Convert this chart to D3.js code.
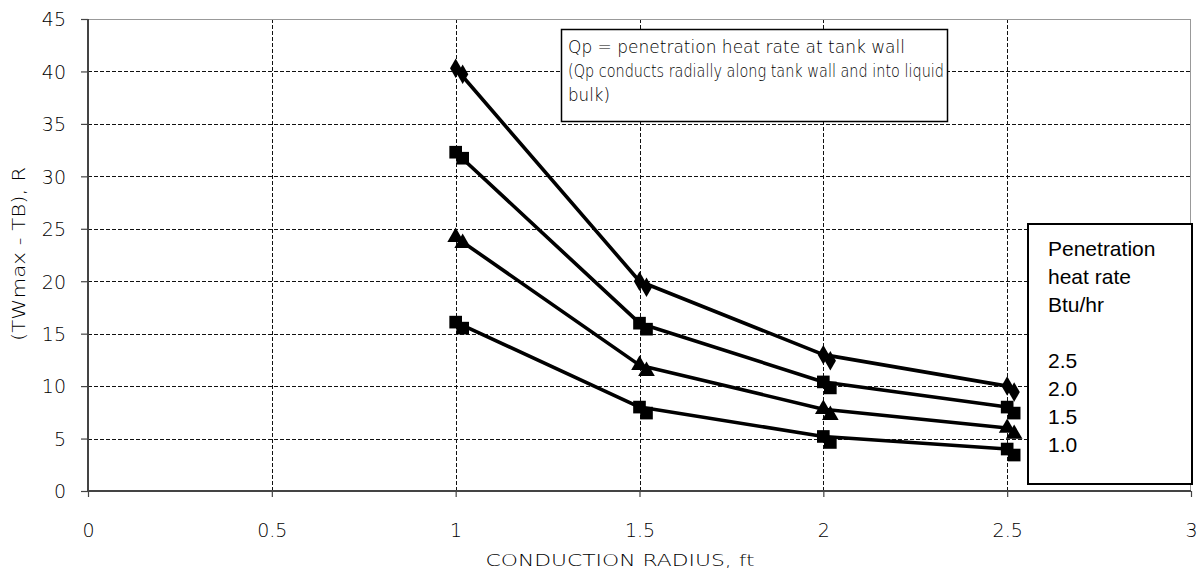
<!DOCTYPE html>
<html>
<head>
<meta charset="utf-8">
<script src="https://cdn.jsdelivr.net/npm/d3@7"></script>
<style>
  html, body { margin: 0; padding: 0; background: #fff; }
  svg { display: block; }
  .tick-label { font-family: "DejaVu Sans", Verdana, sans-serif; font-weight: 200; fill: #000; }
  .note { font-family: "DejaVu Sans", Verdana, sans-serif; font-weight: 200; fill: #000; }
  .legend-text { font-family: "Liberation Sans", Arial, sans-serif; fill: #000; }
</style>
</head>
<body>
<script>
// Conduction radius (ft)
const radius = [1.0, 1.5, 2.0, 2.5];

// Penetration heat rates (Btu/hr), one curve each
const heatRates = ["2.5", "2.0", "1.5", "1.0"];

// (TWmax - TB), R for each heat rate
const dT_2_5 = [40.3, 20.0, 13.0, 10.0];
const dT_2_0 = [32.3, 16.0, 10.4, 8.0];
const dT_1_5 = [24.2, 12.0, 7.8, 6.0];
const dT_1_0 = [16.1, 8.0, 5.2, 4.0];

const markerKinds = ["diamond", "square", "triangle", "square"];

const xTicks = [0, 0.5, 1, 1.5, 2, 2.5, 3];
const yTicks = [0, 5, 10, 15, 20, 25, 30, 35, 40, 45];

const xTitle = "CONDUCTION RADIUS, ft";
const yTitle = "(TWmax - TB), R";
const noteLines = [
  "Qp = penetration heat rate at tank wall",
  "(Qp conducts radially along tank wall and into liquid",
  "bulk)"
];
const legendTitle = ["Penetration", "heat rate", "Btu/hr"];

const series = [dT_2_5, dT_2_0, dT_1_5, dT_1_0].map((vals, i) => ({
  rate: heatRates[i],
  marker: markerKinds[i],
  points: radius.map((r, j) => ({ x: r, y: vals[j] }))
}));

const W = 1198, H = 571;
const plot = { left: 88, right: 1191, top: 19, bottom: 491 };

const svg = d3.select("body").append("svg").attr("width", W).attr("height", H);

const x = d3.scaleLinear().domain([0, 3]).range([plot.left, plot.right]);
const y = d3.scaleLinear().domain([0, 45]).range([plot.bottom, plot.top]);

// Dashed gridlines
const grid = svg.append("g").attr("shape-rendering", "crispEdges");
grid.selectAll("line.hg").data(yTicks.filter(t => t > 0 && t < 45)).join("line")
  .attr("x1", plot.left).attr("x2", plot.right)
  .attr("y1", d => Math.round(y(d)) + 0.5).attr("y2", d => Math.round(y(d)) + 0.5)
  .attr("stroke", "#111").attr("stroke-width", 1).attr("stroke-dasharray", "4,2");
grid.selectAll("line.vg").data(xTicks.filter(t => t > 0 && t < 3)).join("line")
  .attr("y1", plot.top).attr("y2", plot.bottom)
  .attr("x1", d => Math.round(x(d)) + 0.5).attr("x2", d => Math.round(x(d)) + 0.5)
  .attr("stroke", "#111").attr("stroke-width", 1).attr("stroke-dasharray", "4,2");

// Plot frame top and right
grid.append("line").attr("x1", plot.left).attr("x2", plot.right)
  .attr("y1", plot.top + 0.5).attr("y2", plot.top + 0.5).attr("stroke", "#999");
grid.append("line").attr("x1", plot.right - 0.5).attr("x2", plot.right - 0.5)
  .attr("y1", plot.top).attr("y2", plot.bottom).attr("stroke", "#999");

// Axes
const xAxis = d3.axisBottom(x).tickValues(xTicks).tickSize(6).tickFormat(d3.format("~g"));
const yAxis = d3.axisLeft(y).tickValues(yTicks).tickSize(7).tickFormat(d3.format("~g"));

const gx = svg.append("g").attr("transform", `translate(0,${plot.bottom})`).call(xAxis);
const gy = svg.append("g").attr("transform", `translate(${plot.left},0)`).call(yAxis);

gx.select(".domain").attr("stroke", "#444").attr("stroke-width", 2)
  .attr("d", `M${plot.left},0H${plot.right}`);
gy.select(".domain").attr("stroke", "#444").attr("stroke-width", 2)
  .attr("d", `M0,${plot.top}V${plot.bottom}`);
gx.selectAll(".tick line").attr("stroke", "#444").attr("stroke-width", 1.2);
gy.selectAll(".tick line").attr("stroke", "#444").attr("stroke-width", 1.2);
gx.selectAll(".tick text").attr("class", "tick-label").attr("font-size", 19)
  .attr("dy", null).attr("y", 46);
gy.selectAll(".tick text").attr("class", "tick-label").attr("font-size", 19)
  .attr("x", -22).attr("dy", "0.36em");
gx.attr("font-family", null).attr("font-size", null);
gy.attr("font-family", null).attr("font-size", null);

// Axis titles
svg.append("text").attr("class", "tick-label")
  .attr("x", 620).attr("y", 566).attr("text-anchor", "middle")
  .attr("font-size", 16).attr("textLength", 269).attr("lengthAdjust", "spacingAndGlyphs")
  .text(xTitle);
svg.append("text").attr("class", "tick-label")
  .attr("transform", "translate(25,254) rotate(-90)")
  .attr("text-anchor", "middle").attr("font-size", 17)
  .attr("textLength", 174).attr("lengthAdjust", "spacingAndGlyphs")
  .text(yTitle);

// Curves
const line = d3.line().x(d => x(d.x)).y(d => y(d.y));
const curves = svg.append("g");
curves.selectAll("path").data(series).join("path")
  .attr("d", d => line(d.points))
  .attr("fill", "none").attr("stroke", "#000").attr("stroke-width", 3.6)
  .attr("stroke-linejoin", "round");

// Markers, each with a solid offset shadow
const symbolType = { diamond: d3.symbolDiamond, square: d3.symbolSquare, triangle: d3.symbolTriangle };
const symbolSize = { diamond: 110, square: 160, triangle: 120 };
const shadowOffset = [7, 6];
series.forEach(s => {
  const sym = d3.symbol().type(symbolType[s.marker]).size(symbolSize[s.marker]);
  const g = curves.append("g");
  [[0, 0], shadowOffset].forEach(off => {
    g.append("g").selectAll("path").data(s.points).join("path")
      .attr("d", sym)
      .attr("transform", d => `translate(${x(d.x) + off[0]},${y(d.y) + off[1]})`)
      .attr("fill", "#000");
  });
});

// Note box
const note = svg.append("g");
note.append("rect").attr("x", 561.5).attr("y", 29.5).attr("width", 386).attr("height", 92)
  .attr("fill", "#fff").attr("stroke", "#000").attr("stroke-width", 1.5);
const noteLengths = [337, 376, 42];
note.selectAll("text").data(noteLines).join("text").attr("class", "note")
  .attr("x", 568).attr("y", (d, i) => 53 + i * 24)
  .attr("font-size", 17)
  .attr("textLength", (d, i) => noteLengths[i]).attr("lengthAdjust", "spacingAndGlyphs")
  .text(d => d);

// Legend box
const legend = svg.append("g");
legend.append("rect").attr("x", 1028).attr("y", 224).attr("width", 164).attr("height", 260)
  .attr("fill", "#fff").attr("stroke", "#000").attr("stroke-width", 2);
const legendLines = legendTitle.concat([""], heatRates);
legend.selectAll("text").data(legendLines).join("text").attr("class", "legend-text")
  .attr("x", 1048).attr("y", (d, i) => 256 + i * 28)
  .attr("font-size", 21)
  .text(d => d);
</script>
</body>
</html>
